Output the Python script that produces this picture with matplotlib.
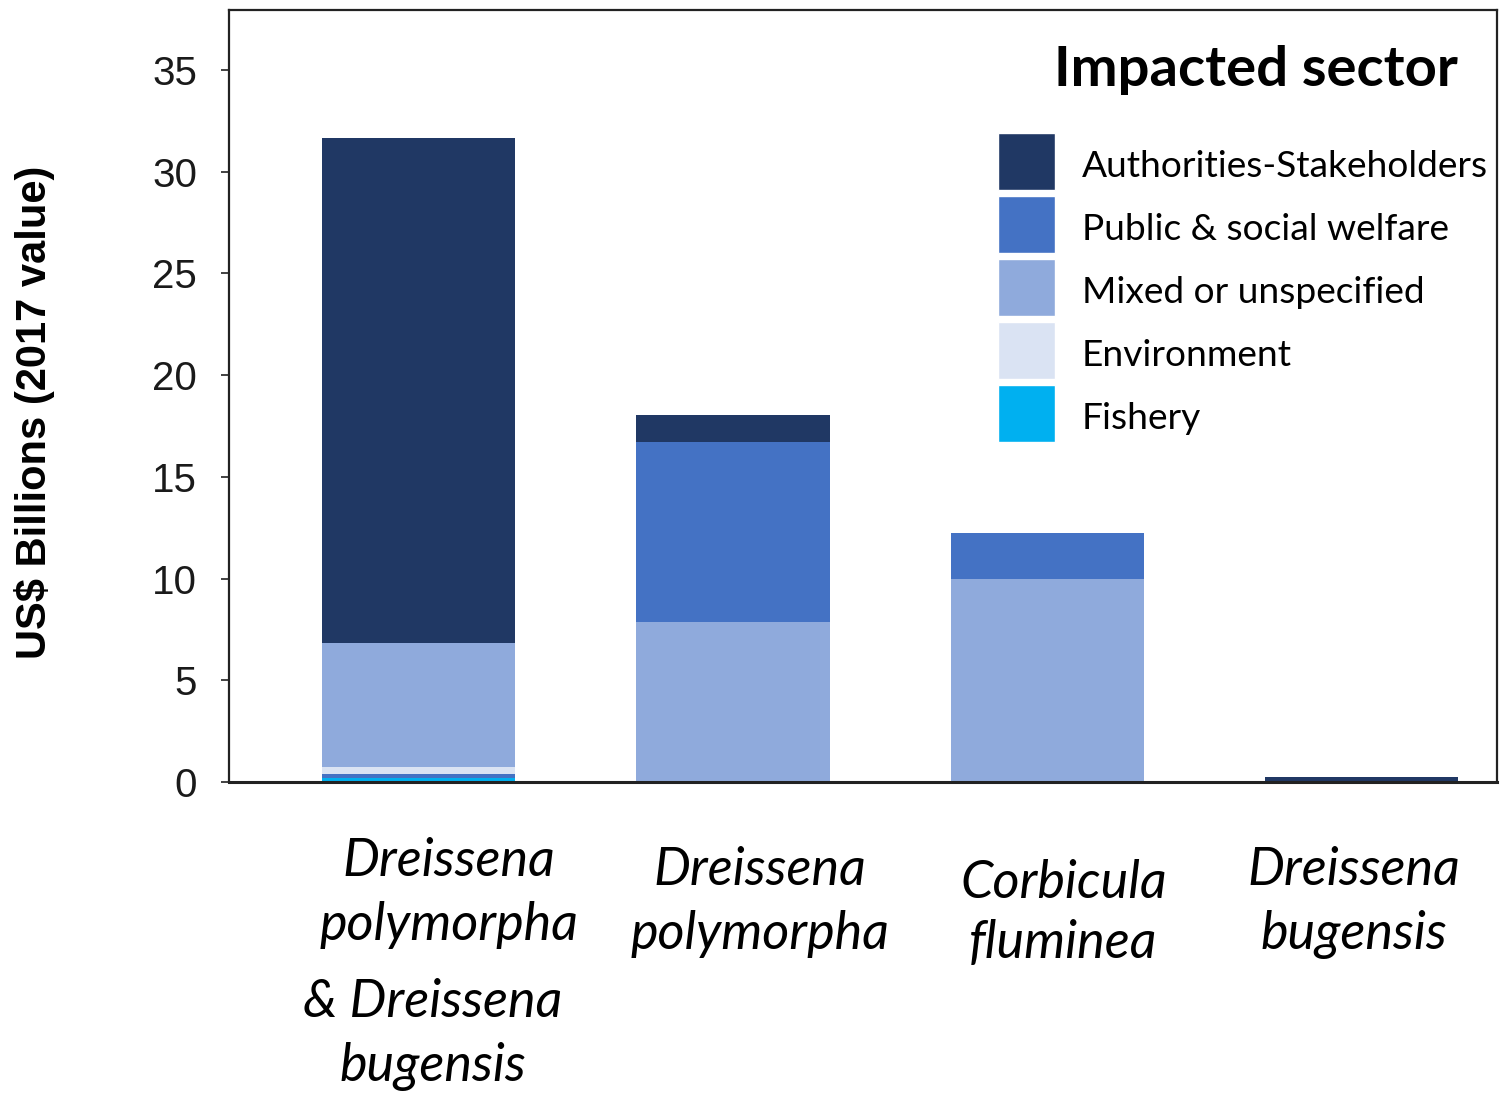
import matplotlib
matplotlib.use("Agg")
import matplotlib.pyplot as plt
import matplotlib.transforms as mtransforms
from matplotlib.patches import Patch
import numpy as np

# ---------------- data ----------------
categories = [
    "Dreissena\npolymorpha\n& Dreissena\nbugensis",
    "Dreissena\npolymorpha",
    "Corbicula\nfluminea",
    "Dreissena\nbugensis",
]
sectors = ["Authorities-Stakeholders", "Public & social welfare",
           "Mixed or unspecified", "Environment", "Fishery"]
authorities = [24.8, 1.35, 0.0, 0.27]
public = [0.2, 8.85, 2.25, 0.0]
mixed = [6.1, 7.85, 10.0, 0.0]
environment = [0.35, 0.0, 0.0, 0.0]
fishery = [0.2, 0.0, 0.0, 0.0]
# bottom-to-top stacking order of the sectors within each bar
stack_order = [
    ["Fishery", "Public & social welfare", "Environment", "Mixed or unspecified", "Authorities-Stakeholders"],
    ["Fishery", "Environment", "Mixed or unspecified", "Public & social welfare", "Authorities-Stakeholders"],
    ["Fishery", "Environment", "Mixed or unspecified", "Public & social welfare", "Authorities-Stakeholders"],
    ["Fishery", "Environment", "Mixed or unspecified", "Public & social welfare", "Authorities-Stakeholders"],
]
yticks = [0, 5, 10, 15, 20, 25, 30, 35]
ylabel = "US$ Billions (2017 value)"
legend_title = "Impacted sector"

values = {
    "Authorities-Stakeholders": authorities,
    "Public & social welfare": public,
    "Mixed or unspecified": mixed,
    "Environment": environment,
    "Fishery": fishery,
}
colors = {
    "Authorities-Stakeholders": "#203864",
    "Public & social welfare": "#4472C4",
    "Mixed or unspecified": "#8FAADC",
    "Environment": "#DAE3F3",
    "Fishery": "#00B0F0",
}

# ---------------- figure ----------------
W, H = 1510, 1097
fig = plt.figure(figsize=(W / 100, H / 100), dpi=100)
ax = fig.add_axes([229 / W, 1 - 782 / H, (1497 - 229) / W, (782 - 10) / H])

x = np.arange(len(categories))
width = 0.614
for i in range(len(categories)):
    bottom = 0.0
    for s in stack_order[i]:
        v = values[s][i]
        if v > 0:
            ax.bar(x[i], v, width=width, bottom=bottom, color=colors[s],
                   edgecolor="none", zorder=2)
            bottom += v

ax.set_xlim(-0.603, 3.43)
ax.set_ylim(0, 37.95)

# y axis
ax.set_yticks(yticks)
ax.set_yticklabels([str(t) for t in yticks], fontsize=29,
                   fontfamily="Liberation Sans", color="#1a1a1a")
ax.tick_params(axis="y", direction="out", length=6, width=1.3,
               color="#333333", pad=17)
ax.set_ylabel(ylabel, fontsize=30, fontweight="bold",
              fontfamily="Liberation Sans")
ax.yaxis.set_label_coords((55 - 229) / (1497 - 229), (782 - 412) / (782 - 10))

# x axis labels (italic species names); long first label is shown in two blocks
xfont = dict(fontsize=37.5, style="italic", fontfamily="Lato")
first_lines = ["\n".join(c.split("\n")[:2]) for c in categories]
extra_lines = ["\n".join(c.split("\n")[2:]) for c in categories]
ax.set_xticks(x)
ax.set_xticklabels(first_lines, **xfont)
ax.tick_params(axis="x", length=0, pad=46)
offsets_px = [(30, 9), (27, 0), (16, -13), (-8, 0)]
spacings = [1.42, 1.42, 1.3, 1.42]
for lab, (dx, dy), ls in zip(ax.get_xticklabels(), offsets_px, spacings):
    lab.set_va("top")
    lab.set_linespacing(ls)
    lab.set_transform(lab.get_transform() +
                      mtransforms.ScaledTranslation(dx / 100, dy / 100, fig.dpi_scale_trans))
for i, extra in enumerate(extra_lines):
    if extra:
        ax.annotate(extra, xy=(x[i], 0), xycoords=("data", "axes fraction"),
                    xytext=(14, -196), textcoords="offset pixels",
                    ha="center", va="top", linespacing=1.42, **xfont)

for sp in ["left", "top", "right"]:
    ax.spines[sp].set_linewidth(1.6)
    ax.spines[sp].set_color("#222222")
ax.spines["bottom"].set_linewidth(2.2)
ax.spines["bottom"].set_color("#222222")

# legend
handles = [Patch(facecolor=colors[s], edgecolor="white", linewidth=1.0) for s in sectors]
fs = 26.7
fs_px = fs * 100 / 72
hh = (57 / fs_px - 0.245) / 0.65
leg = ax.legend(handles, sectors, loc="upper left",
                bbox_to_anchor=(998 / W, 1 - 133 / H),
                bbox_transform=fig.transFigure, frameon=False,
                borderpad=0, borderaxespad=0,
                handlelength=57 / fs_px, handleheight=hh,
                labelspacing=6 / fs_px, handletextpad=27 / fs_px,
                prop={"family": "Lato", "size": fs})
for t in leg.get_texts():
    t.set_transform(t.get_transform() +
                    mtransforms.ScaledTranslation(0, -4 / 100, fig.dpi_scale_trans))

ax.text((1458 - 229) / (1497 - 229), (782 - 70) / (782 - 10), legend_title,
        transform=ax.transAxes, ha="right", va="center",
        fontsize=40.5, fontweight="bold", fontfamily="Lato")

fig.savefig("out.png", dpi=100)
